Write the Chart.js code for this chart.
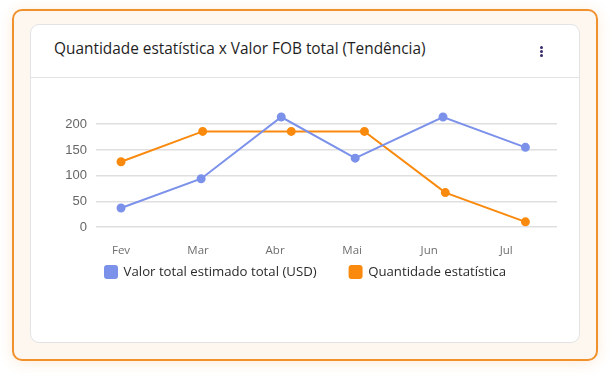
<!DOCTYPE html>
<html>
<head>
<meta charset="utf-8">
<script src="https://cdn.jsdelivr.net/npm/chart.js@4/dist/chart.umd.min.js"></script>
<style>
  html, body { margin: 0; padding: 0; background: #ffffff; }
  body { width: 610px; height: 377px; position: relative; overflow: hidden; font-family: 'Open Sans', sans-serif; }
  .outer {
    position: absolute; left: 12px; top: 9px; width: 582px; height: 348px;
    border: 2px solid #f1912c; border-radius: 10px; background: #fdf7f0;
    box-shadow: 0 2px 14px rgba(241, 145, 44, 0.18);
  }
  .card {
    position: absolute; left: 30px; top: 24px; width: 548px; height: 317px;
    border: 1px solid #e3e3e6; border-radius: 9px; background: #ffffff;
  }
  .header {
    position: absolute; left: 0; top: 0; width: 548px; height: 52px;
    border-bottom: 1px solid #e3e3e6;
  }
  .title {
    position: absolute; left: 23px; top: 13px; font-size: 15.4px; color: #1e1e1e;
    white-space: nowrap;
  }
  .dots { position: absolute; left: 509px; top: 21px; width: 3px; }
  .dots span { display: block; width: 3px; height: 3px; border-radius: 50%; background: #3a2a6e; margin-bottom: 1px; }
  .chart-box { position: absolute; left: 30px; top: 77px; width: 550px; height: 220px; }
</style>
</head>
<body>
<div class="outer"></div>
<div class="card">
  <div class="header">
    <div class="title">Quantidade estatística x Valor FOB total (Tendência)</div>
    <div class="dots"><span></span><span></span><span></span></div>
  </div>
</div>
<div class="chart-box"><canvas id="trend-chart"></canvas></div>
<script>
const months = ['Fev', 'Mar', 'Abr', 'Mai', 'Jun', 'Jul']

// positions along the month axis
const valorX = [0, 1.04, 2.08, 3.04, 4.18, 5.25]
const valorY = [37, 94, 214, 134, 214, 155]

const quantX = [0, 1.06, 2.21, 3.16, 4.21, 5.25]
const quantY = [127, 186, 186, 186, 67, 10]

const yTicks = [0, 50, 100, 150, 200]

const toPoints = (xs, ys) => xs.map((x, i) => ({ x: x, y: ys[i] }))

const blue = '#7b91ea'
const orange = '#f98a0e'

const legendPadding = 33
const legendFont = 13.2

// keep the legend short and tuck it right under the month labels
const legendPlacement = {
  id: 'legendPlacement',
  beforeInit(chart) {
    const fit = chart.legend.fit
    chart.legend.fit = function () {
      fit.call(this)
      this.height = 40
    }
  },
  afterLayout(chart) {
    const lg = chart.legend
    lg.top = 195 - legendPadding - legendFont / 2
    lg.bottom = lg.top + 90
    lg.left += 12
    lg.right += 12
  }
}

const data = {
  datasets: [
    {
      label: 'Valor total estimado total (USD)',
      data: toPoints(valorX, valorY),
      borderColor: blue,
      backgroundColor: blue,
      borderWidth: 2,
      pointRadius: 3.5,
      pointHoverRadius: 4
    },
    {
      label: 'Quantidade estatística',
      data: toPoints(quantX, quantY),
      borderColor: orange,
      backgroundColor: orange,
      borderWidth: 2,
      pointRadius: 3.5,
      pointHoverRadius: 4
    }
  ]
}

const config = {
  type: 'line',
  data: data,
  plugins: [legendPlacement],
  options: {
    responsive: true,
    maintainAspectRatio: false,
    animation: false,
    layout: { padding: { left: 0, right: 23, top: 34.4, bottom: 0 } },
    scales: {
      x: {
        type: 'linear',
        min: -0.325,
        max: 5.66,
        border: { display: false },
        grid: { display: false, drawTicks: false },
        afterFit: (scale) => { scale.height = 30 },
        ticks: {
          stepSize: 1,
          includeBounds: false,
          padding: 16.5,
          color: '#6e6e6e',
          font: { family: 'Open Sans', size: 11.5 },
          callback: (v) => months[v] ?? ''
        }
      },
      y: {
        min: 0,
        max: 225,
        border: { display: false },
        grid: { color: '#dfdfe2', lineWidth: 1.5, drawTicks: false },
        afterFit: (scale) => { scale.width = 66 },
        afterBuildTicks: (scale) => { scale.ticks = yTicks.map(v => ({ value: v })) },
        ticks: {
          padding: 9,
          color: '#666666',
          font: { family: 'Liberation Sans', size: 13 }
        }
      }
    },
    plugins: {
      tooltip: { enabled: false },
      legend: {
        position: 'bottom',
        labels: {
          boxWidth: 12,
          boxHeight: 12,
          useBorderRadius: true,
          borderRadius: 2,
          padding: legendPadding,
          color: '#2a2a2a',
          font: { family: 'Open Sans', size: legendFont }
        }
      }
    }
  }
}

const chart = new Chart(document.getElementById('trend-chart'), config)
</script>
</body>
</html>
